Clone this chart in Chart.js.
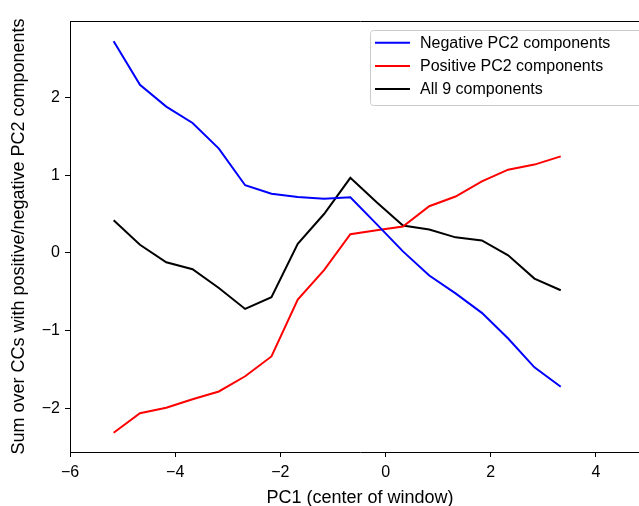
<!DOCTYPE html>
<html>
<head>
<meta charset="utf-8">
<script src="https://cdn.jsdelivr.net/npm/chart.js@4"></script>
<style>
html,body{margin:0;padding:0;background:#fff;overflow:hidden;}
#wrap{width:639px;height:506px;overflow:hidden;}
</style>
</head>
<body>
<div id="wrap"><canvas id="pcChart" width="660" height="514"></canvas></div>
<script>

/* DATA */

const windowCenters = [-5.17,-4.67,-4.17,-3.67,-3.17,-2.67,-2.17,-1.67,-1.17,-0.67,-0.17,0.33,0.83,1.33,1.83,2.33,2.83,3.33];
const negativePC2 = [2.72,2.16,1.88,1.67,1.34,0.87,0.76,0.72,0.695,0.716,0.37,0.02,-0.29,-0.52,-0.77,-1.10,-1.47,-1.72];
const positivePC2 = [-2.31,-2.06,-1.99,-1.88,-1.78,-1.585,-1.33,-0.60,-0.22,0.24,0.29,0.34,0.60,0.725,0.92,1.07,1.135,1.24];
const allComponents = [0.42,0.105,-0.12,-0.21,-0.45,-0.72,-0.57,0.118,0.50,0.965,0.65,0.353,0.30,0.20,0.16,-0.03,-0.33,-0.48];

const xTicks = [-6,-4,-2,0,2,4];
const yTicks = [-2,-1,0,1,2];

const FONT = "'Liberation Sans', Arial, Helvetica, sans-serif";

function pts(ys){
return windowCenters.map((x,i)=>({x:x,y:ys[i]}));
}

function fmt(v){
return v < 0 ? "\u2212" + Math.abs(v) : String(v);
}

/* LEGEND INSIDE AXES */

const boxLegend = {
id:"boxLegend",
afterDatasetsDraw(chart){
const ctx = chart.ctx;
const x0 = 370, y0 = 30, w = 272, h = 75;
ctx.save();
ctx.fillStyle = "rgba(255,255,255,0.8)";
ctx.strokeStyle = "#cccccc";
ctx.lineWidth = 1;
ctx.beginPath();
ctx.roundRect(x0+0.5, y0+0.5, w, h, 3);
ctx.fill();
ctx.stroke();
ctx.font = "16px " + FONT;
ctx.textBaseline = "middle";
ctx.fillStyle = "#000";
chart.data.datasets.forEach((ds,i)=>{
const y = 42.7 + i*23.2;
ctx.strokeStyle = ds.borderColor;
ctx.lineWidth = 2;
ctx.beginPath();
ctx.moveTo(375, y);
ctx.lineTo(410, y);
ctx.stroke();
ctx.fillText(ds.label, 420, y + 0.5);
});
ctx.restore();
}
};

/* CHART */

new Chart(
document.getElementById("pcChart"),
{
type:"line",
data:{
datasets:[
{label:"Negative PC2 components", data:pts(negativePC2), borderColor:"#0000ff"},
{label:"Positive PC2 components", data:pts(positivePC2), borderColor:"#ff0000"},
{label:"All 9 components", data:pts(allComponents), borderColor:"#000000"}
]
},
options:{
responsive:false,
animation:false,
layout:{padding:{left:0,right:10,top:0,bottom:0}},
elements:{
line:{borderWidth:2,tension:0,fill:false},
point:{radius:0,hoverRadius:0}
},
plugins:{legend:{display:false},tooltip:{enabled:false}},
scales:{
x:{
type:"linear",
min:-6, max:5.027,
afterBuildTicks:s=>{ s.ticks = xTicks.map(v=>({value:v})); },
afterFit:s=>{ s.height = 62; },
grid:{drawOnChartArea:false, tickLength:5, tickColor:"#000", tickWidth:1},
border:{display:true, color:"#000", width:1},
ticks:{padding:6, color:"#000", font:{family:FONT, size:16}, callback:v=>fmt(v), maxRotation:0},
title:{display:true, text:"PC1 (center of window)", color:"#000", font:{family:FONT, size:18}, padding:{top:0,bottom:5}}
},
xTop:{
type:"linear", position:"top", min:-6, max:5.027,
afterFit:s=>{ s.height = 21; },
grid:{display:false},
border:{display:true, color:"#000", width:1},
ticks:{display:false}
},
y:{
min:-2.558, max:2.98,
afterBuildTicks:s=>{ s.ticks = yTicks.map(v=>({value:v})); },
afterFit:s=>{ s.width = 70; },
grid:{drawOnChartArea:false, tickLength:5, tickColor:"#000", tickWidth:1},
border:{display:true, color:"#000", width:1},
ticks:{padding:5, color:"#000", font:{family:FONT, size:16}, callback:v=>fmt(v)},
title:{display:true, text:"Sum over CCs with positive/negative PC2 components", color:"#000", font:{family:FONT, size:18}, padding:{top:8,bottom:0}}
}
}
},
plugins:[boxLegend]
}
);

</script>
</body>
</html>
